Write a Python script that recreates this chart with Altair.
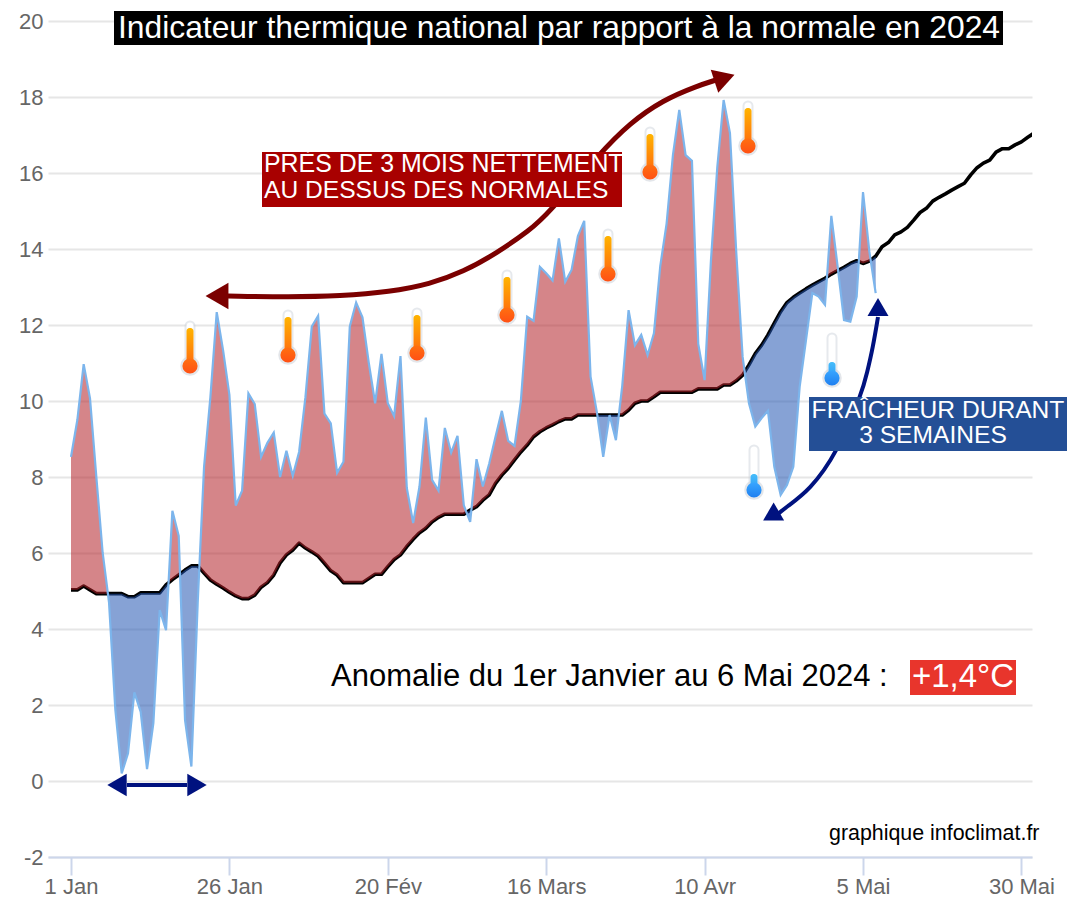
import altair as alt
import pandas as pd

# ---- values ----------------------------------------------------------------
anomaly_values = [
    8.53, 9.5, 10.97, 10.07, 8.0, 6.0, 4.7, 1.87, 0.2, 0.73,
    2.33, 1.82, 0.31, 1.52, 4.5, 3.97, 7.11, 6.45, 1.6, 0.38,
    4.7, 8.27, 10.1, 12.34, 11.34, 10.16, 7.25, 7.64, 10.2, 9.92,
    8.53, 8.9, 9.17, 8.0, 8.69, 8.03, 8.66, 10.1, 11.96, 12.24,
    9.67, 9.41, 8.11, 8.4, 11.96, 12.59, 12.2, 11.0, 9.94, 11.24,
    9.94, 9.6, 11.18, 7.71, 6.79, 7.75, 9.56, 7.92, 7.64, 9.29,
    8.64, 9.08, 7.25, 6.82, 8.47, 7.75, 8.35, 9.06, 9.74, 8.95,
    8.82, 10.0, 12.22, 12.11, 13.53, 13.36, 13.17, 14.28, 13.14, 13.45,
    14.34, 14.74, 10.64, 9.7, 8.53, 9.63, 8.97, 10.4, 12.39, 11.47,
    11.74, 11.21, 11.78, 13.55, 14.67, 16.47, 17.66, 16.47, 16.32, 11.5,
    10.55, 13.7, 16.15, 17.92, 17.05, 13.9, 11.16, 9.94, 9.33, 9.55,
    9.74, 8.27, 7.53, 7.79, 8.27, 10.37, 11.6, 12.84, 12.75, 12.53,
    14.87, 13.53, 12.13, 12.09, 12.75, 15.5, 13.93, 12.84,
]
normal_values = [
    5.03, 5.03, 5.13, 5.03, 4.93, 4.93, 4.93, 4.93, 4.93, 4.85,
    4.85, 4.95, 4.95, 4.95, 4.95, 5.16, 5.3, 5.42, 5.55, 5.66,
    5.66, 5.47, 5.29, 5.18, 5.08, 4.97, 4.87, 4.8, 4.8, 4.89,
    5.1, 5.22, 5.42, 5.74, 5.95, 6.08, 6.26, 6.13, 6.03, 5.92,
    5.73, 5.53, 5.42, 5.22, 5.22, 5.22, 5.22, 5.33, 5.44, 5.44,
    5.64, 5.83, 5.95, 6.17, 6.36, 6.53, 6.65, 6.82, 6.94, 7.02,
    7.02, 7.02, 7.02, 7.13, 7.22, 7.39, 7.53, 7.83, 8.05, 8.23,
    8.45, 8.66, 8.84, 9.06, 9.19, 9.29, 9.37, 9.46, 9.53, 9.53,
    9.63, 9.63, 9.63, 9.63, 9.63, 9.63, 9.63, 9.63, 9.76, 9.94,
    10.0, 10.0, 10.11, 10.23, 10.23, 10.23, 10.23, 10.23, 10.23, 10.32,
    10.32, 10.32, 10.32, 10.42, 10.42, 10.53, 10.68, 10.95, 11.25, 11.47,
    11.74, 12.05, 12.35, 12.59, 12.73, 12.84, 12.95, 13.05, 13.14, 13.23,
    13.34, 13.43, 13.52, 13.62, 13.69, 13.62, 13.68, 13.81, 14.06, 14.17,
    14.37, 14.45, 14.57, 14.76, 14.96, 15.07, 15.26, 15.36, 15.45, 15.55,
    15.64, 15.73, 15.95, 16.14, 16.26, 16.34, 16.55, 16.64, 16.64, 16.74,
    16.82, 16.94, 17.05,
]
x_tick_labels = ["1 Jan", "26 Jan", "20 Fév", "16 Mars", "10 Avr", "5 Mai", "30 Mai"]
x_tick_days = [0, 25, 50, 75, 100, 125, 150]
y_ticks = list(range(-2, 21, 2))

FONT = "Liberation Sans"
X_MIN, X_MAX = -3.63, 151.67
W, H = 984, 836
LEFT, TOP = 48, 21


def dx(px):
    return X_MIN + (px - LEFT) / W * (X_MAX - X_MIN)


def dy(py):
    return 20 - (py - TOP) / (H / 22)


# ---- tables ----------------------------------------------------------------
anom = pd.DataFrame({"d": range(len(anomaly_values)), "v": anomaly_values})
norm = pd.DataFrame({"d": range(len(normal_values)), "n": normal_values})

# The two fills meet where the curves cross, so the crossing is added to the fill table.
fill_rows = []
for i, (v, n) in enumerate(zip(anomaly_values, normal_values)):
    if i:
        a, b = anomaly_values[i - 1] - normal_values[i - 1], v - n
        if a * b < 0:
            t = a / (a - b)
            c = normal_values[i - 1] + t * (n - normal_values[i - 1])
            fill_rows.append({"d": i - 1 + t, "hi": c, "lo": c, "n": c})
    fill_rows.append({"d": i, "hi": max(v, n), "lo": min(v, n), "n": n})
fills = pd.DataFrame(fill_rows)

xs = alt.Scale(domain=[X_MIN, X_MAX], nice=False, zero=False)
ys = alt.Scale(domain=[-2, 20], nice=False, zero=False)
label_list = "[" + ",".join(f"'{s}'" for s in x_tick_labels) + "]"
xaxis = alt.Axis(
    title=None, values=x_tick_days, labelExpr=f"{label_list}[datum.value/25]", grid=False,
    domainColor="#ccd6eb", domainWidth=2, tickColor="#ccd6eb", tickWidth=2, tickSize=18,
    labelColor="#666666", labelFont=FONT, labelFontSize=22, labelPadding=1,
    labelOverlap=False, labelBound=False, labelFlush=False,
)
yaxis = alt.Axis(
    title=None, values=y_ticks, labelExpr="''+datum.value", grid=True, gridColor="#e6e6e6", gridWidth=2,
    domain=False, ticks=False, labelColor="#666666", labelFont=FONT, labelFontSize=22, labelPadding=5,
    labelOverlap=False, labelBound=False, labelFlush=False,
)


def X(f):
    return alt.X(f, type="quantitative", scale=xs, axis=xaxis)


def Y(f):
    return alt.Y(f, type="quantitative", scale=ys, axis=yaxis)


layers = []
layers.append(
    alt.Chart(norm).mark_line(color="#000000", strokeWidth=3.6, clip=True, strokeJoin="round")
    .encode(x=X("d"), y=Y("n"))
)
layers.append(
    alt.Chart(fills).mark_area(color="#b22128", opacity=0.55).encode(x=X("d"), y=Y("hi"), y2="n")
)
layers.append(
    alt.Chart(fills).mark_area(color="#2356b3", opacity=0.55).encode(x=X("d"), y=Y("lo"), y2="n")
)
layers.append(
    alt.Chart(anom).mark_line(color="#7cb5ec", strokeWidth=2.2).encode(x=X("d"), y=Y("v"))
)

# ---- curved arrows ---------------------------------------------------------
red_curve_px = [(228, 296), (290, 297), (340, 296), (390, 292), (430, 284), (463, 272), (497, 253),
                (530, 230), (547, 215), (600, 153), (630, 123), (663, 100), (697, 86), (716, 80)]
blue_curve_px = [(778, 514), (785, 508), (810, 490), (837, 453), (862, 393), (867, 373), (873, 347), (878, 317)]
flat_arrow_px = [(127, 785), (187, 785)]


def curve(points, color, width, interp="basis"):
    t = pd.DataFrame({"x": [dx(p[0]) for p in points], "y": [dy(p[1]) for p in points]})
    return alt.Chart(t).mark_line(color=color, strokeWidth=width, interpolate=interp).encode(x=X("x"), y=Y("y"))


def head(px, py, angle, size, color):
    t = pd.DataFrame({"x": [dx(px)], "y": [dy(py)]})
    return alt.Chart(t).mark_point(
        shape="triangle-up", filled=True, color=color, opacity=1, size=size, angle=angle, strokeWidth=0
    ).encode(x=X("x"), y=Y("y"))


DARKRED = "#7b0000"
NAVY = "#00127f"
layers += [
    curve(red_curve_px, DARKRED, 5),
    head(217, 296, 270, 700, DARKRED),
    head(724.5, 78, 72, 590, DARKRED),
    curve(blue_curve_px, NAVY, 4),
    head(878, 307, 0, 440, NAVY),
    head(771, 516, 240, 440, NAVY),
    curve(flat_arrow_px, NAVY, 4, "linear"),
    head(117, 785, 270, 500, NAVY),
    head(197, 785, 90, 500, NAVY),
]

# ---- thermometers ----------------------------------------------------------
hot_px = [(190, 366), (288, 355), (417, 353), (507, 315), (608, 274), (650, 172), (748, 146)]
cold_px = [(754, 490), (832, 378)]


def grad(c1, c2):
    return {"gradient": "linear", "x1": 0, "x2": 0, "y1": 0, "y2": 1,
            "stops": [{"offset": 0, "color": c1}, {"offset": 1, "color": c2}]}


def thermometers(points, level, tube1, tube2, bulb1, bulb2):
    t = pd.DataFrame({
        "x": [dx(p[0]) for p in points],
        "x0": [dx(p[0] - 3.5) for p in points],
        "x1": [dx(p[0] + 3.5) for p in points],
        "y": [dy(p[1]) for p in points],
        "top": [dy(p[1] - 40) for p in points],
        "liq": [dy(p[1] - level) for p in points],
    })
    base = alt.Chart(t)
    return [
        base.mark_rule(color="#c8ced6", strokeWidth=11, strokeCap="round", opacity=0.45).encode(x=X("x"), y=Y("y"), y2="top"),
        base.mark_point(shape="circle", filled=True, color="#c8ced6", opacity=0.5, size=380, strokeWidth=0).encode(x=X("x"), y=Y("y")),
        base.mark_rule(color="#ffffff", strokeWidth=7, strokeCap="round").encode(x=X("x"), y=Y("y"), y2="top"),
        base.mark_rect(fill=grad(tube1, tube2), opacity=1, cornerRadius=3).encode(x=X("x0"), x2="x1", y=Y("liq"), y2="y"),
        base.mark_point(shape="circle", filled=True, fill=grad(bulb1, bulb2), opacity=1, size=230, strokeWidth=0).encode(x=X("x"), y=Y("y")),
    ]


layers += thermometers(hot_px, 38, "#ffb400", "#ff6a10", "#ff7010", "#ff5014")
layers += thermometers(cold_px, 16, "#46bdfa", "#2f9af8", "#38a6ff", "#1f7ff0")


# ---- boxes and texts -------------------------------------------------------
def box(x0, x1, y0, y1, color):
    t = pd.DataFrame({"x": [dx(x0)], "x2": [dx(x1)], "y": [dy(y0)], "y2": [dy(y1)]})
    return alt.Chart(t).mark_rect(color=color, opacity=1).encode(x=X("x"), x2="x2", y=Y("y"), y2="y2")


def label(txt, px, py, size, color, align="left"):
    t = pd.DataFrame({"x": [dx(px)], "y": [dy(py)], "t": [txt]})
    return alt.Chart(t).mark_text(
        font=FONT, fontSize=size, color=color, align=align, baseline="middle"
    ).encode(x=X("x"), y=Y("y"), text="t:N")


layers += [
    box(114, 1003, 11, 45, "#000000"),
    label("Indicateur thermique national par rapport à la normale en 2024", 559, 28, 31.8, "#ffffff", "center"),
    box(262, 622, 152, 207, "#a80000"),
    label("PRÈS DE 3 MOIS NETTEMENT", 264, 165, 24.9, "#ffffff"),
    label("AU DESSUS DES NORMALES", 264, 190.5, 24.6, "#ffffff"),
    box(809, 1067, 397, 451, "#244f96"),
    label("FRAÎCHEUR DURANT", 938, 411, 24.6, "#ffffff", "center"),
    label("3 SEMAINES", 933, 436, 24.6, "#ffffff", "center"),
    label("Anomalie du 1er Janvier au 6 Mai 2024 :", 331, 677, 31, "#000000"),
    box(910, 1016, 660, 695, "#e8352c"),
    label("+1,4°C", 963, 677, 33, "#ffffff", "center"),
    label("graphique infoclimat.fr", 829, 834, 21.4, "#000000"),
]

chart = alt.layer(*layers).properties(
    width=W, height=H,
    padding={"left": 40, "top": 13, "right": 36, "bottom": 40},
    autosize=alt.AutoSizeParams(type="none"),
    background="#ffffff",
).configure_view(stroke=None)

chart.save("out.html", embed_options={"renderer": "svg", "actions": False})
